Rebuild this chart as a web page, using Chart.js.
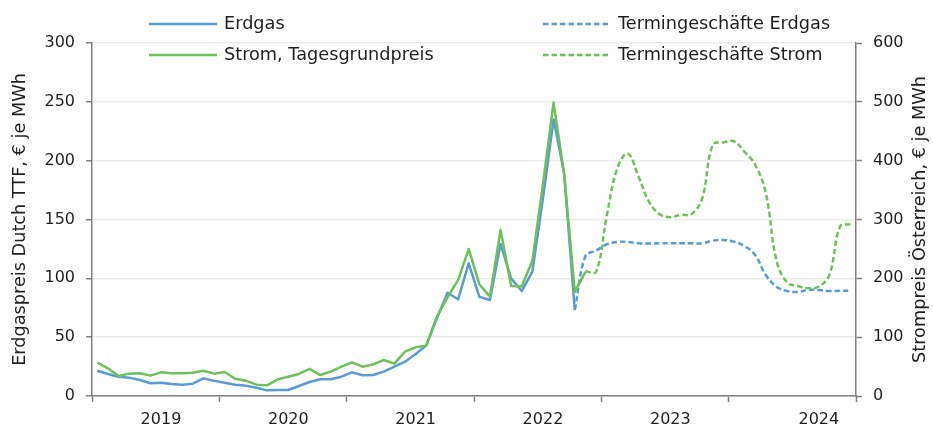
<!DOCTYPE html>
<html><head><meta charset="utf-8">
<script src="https://cdn.jsdelivr.net/npm/chart.js@4.4.1/dist/chart.umd.min.js"></script>
<style>html,body{margin:0;padding:0;background:#fff}</style>
</head><body>
<canvas id="c" width="933" height="427"></canvas>
<script>
// ---- data ----
const years = ['2019', '2020', '2021', '2022', '2023', '2024'];
const monthNames = ['Jan','Feb','Mär','Apr','Mai','Jun','Jul','Aug','Sep','Okt','Nov','Dez'];
const categories = [];
years.forEach(y => monthNames.forEach(m => categories.push(m + ' ' + y)));

// Erdgas (Dutch TTF, € je MWh), from Jan 2019
const gasSpot = [21.5, 18.7, 16.4, 15.6, 13.6, 10.8, 11.3, 10.2, 9.6, 10.5, 15, 13,
  11.3, 9.6, 8.8, 7, 4.8, 5.1, 5.1, 8.5, 11.9, 14.2, 14.2, 16.4,
  20.1, 17.6, 17.8, 20.7, 24.9, 29.2, 35.7, 42.8, 66, 87.8, 82.2, 112.8,
  84.4, 81.6, 129.2, 100, 89.2, 105.7, 168, 235, 189, 73];
const gasSpotStart = 0;

// Strom, Tagesgrundpreis (Österreich, € je MWh), from Jan 2019
const powerSpot = [56.6, 47, 34, 38, 38.6, 34.6, 40.2, 38.6, 38.6, 39.6, 43, 38,
  40.8, 29.4, 26, 19.2, 18.2, 28.4, 32.8, 37.4, 46, 35.6, 41.4, 49.8,
  57.2, 49.8, 53.8, 61.2, 55, 75.4, 82.8, 85.6, 134.8, 167.8, 197, 250,
  190, 169, 282, 187, 186, 230, 360, 499, 376, 177, 211];
const powerSpotStart = 0;

// Termingeschäfte Erdgas, from Oct 2022
const gasForward = [73, 119, 123.5, 128.9, 130.9, 130.9, 129.8, 129.5, 129.8, 129.8, 129.8, 129.8,
  129.8, 132, 132.6, 131.1, 127.5, 119.8, 102.8, 92.9, 89.2, 88.4, 90.1, 90.1, 89.2, 89.5, 89.5];
const gasForwardStart = 45;

// Termingeschäfte Strom, from Nov 2022
const powerForward = [212, 211, 305, 387, 412, 373, 330, 309, 304, 308, 309, 336,
  427, 431, 433, 415, 393, 345, 231, 193, 187, 183, 186, 206, 288, 292];
const powerForwardStart = 46;

// ---- layout constants ----
const yearLabelMonth = [6, 6, 6, 6, 6, 8];
const BLUE = '#5b9bd5';
const GREEN = '#6fc05c';
const AXIS = '#808080';
const TEXT = '#1f1f1f';
const FONT = '"DejaVu Sans", sans-serif';
const FS = 16;      // tick labels
const FS_TXT = 17.7; // legend and axis titles

function place(arr, start) {
  const out = new Array(categories.length).fill(null);
  arr.forEach((v, i) => { out[start + i] = v; });
  return out;
}

const legendPos = [[149, 24], [149, 55], [543, 24], [543, 55]];

const overlayPlugin = {
  id: 'overlay',
  afterDraw(chart) {
    const ctx = chart.ctx;
    const ca = chart.chartArea;
    ctx.save();
    ctx.font = FS_TXT + 'px ' + FONT;
    ctx.fillStyle = TEXT;
    ctx.textBaseline = 'middle';
    chart.data.datasets.forEach((ds, i) => {
      const [x, y] = legendPos[i];
      ctx.save();
      ctx.strokeStyle = ds.borderColor;
      ctx.lineWidth = ds.borderWidth;
      ctx.setLineDash(ds.borderDash || []);
      ctx.beginPath(); ctx.moveTo(x, y); ctx.lineTo(x + 68, y); ctx.stroke();
      ctx.restore();
      ctx.textAlign = 'left';
      ctx.fillText(ds.label, x + 75, y);
    });
    // axis titles (both read bottom-to-top)
    const cy = (ca.top + ca.bottom) / 2;
    ctx.textAlign = 'center';
    ctx.save();
    ctx.translate(20, cy); ctx.rotate(-Math.PI / 2);
    ctx.fillText('Erdgaspreis Dutch TTF, € je MWh', 0, 0);
    ctx.restore();
    ctx.save();
    ctx.translate(920, cy); ctx.rotate(-Math.PI / 2);
    ctx.fillText('Strompreis Österreich, € je MWh', 0, 0);
    ctx.restore();
    ctx.restore();
  }
};

new Chart(document.getElementById('c'), {
  type: 'line',
  data: {
    labels: categories,
    datasets: [
      { label: 'Erdgas', data: place(gasSpot, gasSpotStart), yAxisID: 'y',
        borderColor: BLUE, borderWidth: 2.5, pointRadius: 0, tension: 0, order: 2 },
      { label: 'Strom, Tagesgrundpreis', data: place(powerSpot, powerSpotStart), yAxisID: 'y2',
        borderColor: GREEN, borderWidth: 2.5, pointRadius: 0, tension: 0, order: 1 },
      { label: 'Termingeschäfte Erdgas', data: place(gasForward, gasForwardStart), yAxisID: 'y',
        borderColor: BLUE, borderWidth: 2.5, borderDash: [5.5, 3], pointRadius: 0, tension: 0.4, order: 2 },
      { label: 'Termingeschäfte Strom', data: place(powerForward, powerForwardStart), yAxisID: 'y2',
        borderColor: GREEN, borderWidth: 2.5, borderDash: [5.5, 3], pointRadius: 0, tension: 0.4, order: 1 }
    ]
  },
  options: {
    responsive: false,
    devicePixelRatio: 1,
    animation: false,
    layout: { padding: { top: 43 } },
    plugins: { legend: { display: false }, tooltip: { enabled: false } },
    elements: { line: { borderCapStyle: 'butt', borderJoinStyle: 'round' } },
    scales: {
      x: {
        type: 'category',
        offset: true,
        grid: {
          offset: true, drawOnChartArea: false, drawTicks: true, tickLength: 6,
          tickWidth: 1.5,
          tickColor: (c) => (c.index === undefined || c.index % 12 === 0) ? AXIS : 'rgba(0,0,0,0)'
        },
        border: { color: AXIS, width: 1.5 },
        ticks: {
          autoSkip: false, maxRotation: 0, minRotation: 0, padding: 8,
          color: TEXT, font: { family: FONT, size: FS },
          callback: (v, i) => {
            const yi = Math.floor(i / 12);
            return (i % 12 === yearLabelMonth[yi]) ? years[yi] : '';
          }
        },
        afterFit: (s) => { s.height = 31; }
      },
      y: {
        position: 'left', min: 0, max: 300,
        grid: { color: '#ebebeb', lineWidth: 1.5, tickColor: AXIS, tickLength: 6, tickWidth: 1.5 },
        border: { color: AXIS, width: 1.5 },
        ticks: { stepSize: 50, padding: 11, color: TEXT, font: { family: FONT, size: FS } },
        afterFit: (s) => { s.width = 92; }
      },
      y2: {
        position: 'right', min: 0, max: 600,
        grid: { drawOnChartArea: false, tickColor: AXIS, tickLength: 6, tickWidth: 1.5 },
        border: { color: AXIS, width: 1.5 },
        ticks: { stepSize: 100, padding: 11, color: TEXT, font: { family: FONT, size: FS } },
        afterFit: (s) => { s.width = 77; }
      }
    }
  },
  plugins: [overlayPlugin]
});
</script>
</body></html>
